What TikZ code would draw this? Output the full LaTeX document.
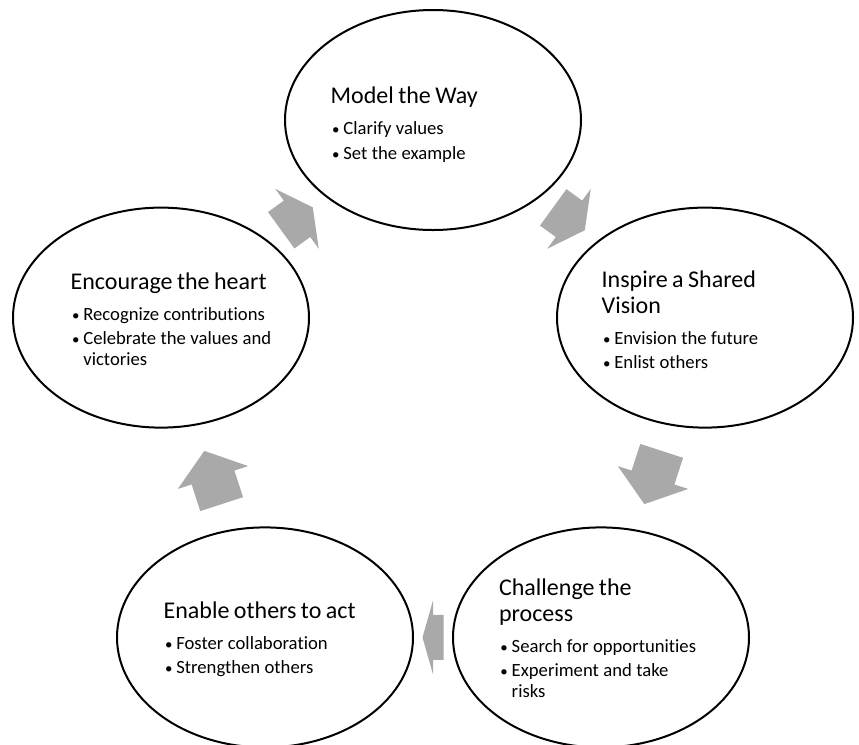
\documentclass[tikz,border=0pt]{standalone}
\usepackage{graphicx}
\usepackage{fontspec}
\setmainfont{Carlito}[Ligatures={NoCommon}]
\usetikzlibrary{shapes.geometric,calc}

\definecolor{cyclegray}{HTML}{A9A9A9}

% heading line and bulleted lines inside a stage
\newcommand\cyctitle[1]{\fontsize{18pt}{19.5pt}\selectfont #1\par}
\newcommand\cycbullet[1]{\fontsize{14pt}{15.75pt}\selectfont
  \hangindent=9.5pt\hangafter=1\noindent
  \makebox[9.5pt][l]{\hspace{1pt}\scalebox{0.8}{•}}#1\par}
\newcommand\titlegap{\vspace{7.5pt}}
\newcommand\bulletgap{\vspace{2.65pt}}

\tikzset{
  stage/.style={ellipse, draw=black, line width=1.5pt, fill=white,
    minimum width=222pt, minimum height=165pt, inner sep=0pt},
  stagetext/.style={anchor=base west, text width=180pt, align=left, inner sep=0pt},
  pics/cyclearrow/.style={code={
    \fill[cyclegray] (-#1,-22.5) -- (0,-22.5) -- (0,-37) -- (#1,0)
      -- (0,37) -- (0,22.5) -- (-#1,22.5) -- cycle;}},
}

\begin{document}
\begin{tikzpicture}[x=0.75pt,y=-0.75pt]
\useasboundingbox (0,0) rectangle (859,744);
\clip (0,0) rectangle (859,744);

% the five stages, on a regular pentagon
\node[stage] (mw)  at (433,120)   {};
\node[stage] (isv) at (705,317.6) {};
\node[stage] (cp)  at (601,637.4) {};
\node[stage] (eo)  at (265,637.4) {};
\node[stage] (eh)  at (161,317.6) {};

% stage texts
\node[stagetext] (mwt) at (330.4,103.5) {\cyctitle{Model the Way}\titlegap
  \cycbullet{Clarify values}\bulletgap
  \cycbullet{Set the example}};
\node[stagetext] (isvt) at (601.4,287) {\cyctitle{Inspire a Shared\newline Vision}\titlegap
  \cycbullet{Envision the future}\bulletgap
  \cycbullet{Enlist others}};
\node[stagetext] (cpt) at (498.8,595) {\cyctitle{Challenge the\newline process}\titlegap
  \cycbullet{Search for opportunities}\bulletgap
  \cycbullet{Experiment and take\newline risks}};
\node[stagetext] (eot) at (163.4,618) {\cyctitle{Enable others to act}\titlegap
  \cycbullet{Foster collaboration}\bulletgap
  \cycbullet{Strengthen others}};
\node[stagetext] (eht) at (70.4,289) {\cyctitle{Encourage the heart}\titlegap
  \cycbullet{Recognize contributions}\bulletgap
  \cycbullet{Celebrate the values and\newline victories}};

% block arrows between consecutive stages, clockwise
\pic[rotate=-36]  at ($(mw)!0.5!(isv)$) {cyclearrow=19.5};
\pic[rotate=-108] at ($(isv)!0.5!(cp)$) {cyclearrow=28};
\pic[rotate=180]  at ($(cp)!0.5!(eo)$)  {cyclearrow=10.5};
\pic[rotate=108]  at ($(eo)!0.5!(eh)$)  {cyclearrow=28};
\pic[rotate=36]   at ($(eh)!0.5!(mw)$)  {cyclearrow=19.5};
\end{tikzpicture}
\end{document}
